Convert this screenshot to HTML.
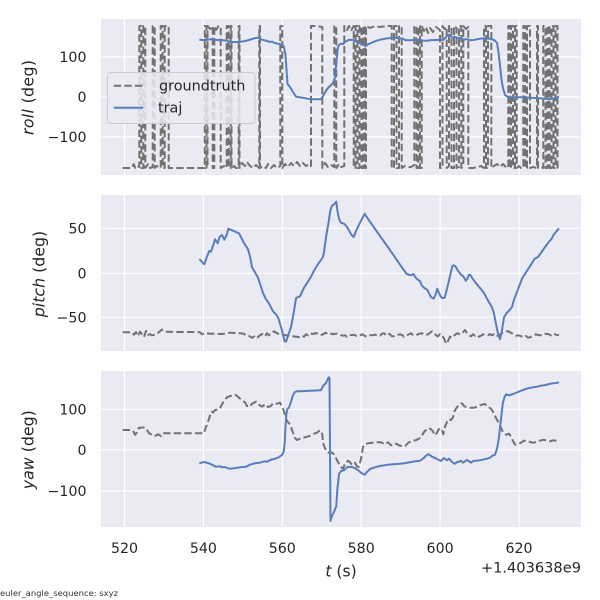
<!DOCTYPE html>
<html><head><meta charset="utf-8"><style>
html,body{margin:0;padding:0;background:#fff;}
svg{display:block;font-family:"DejaVu Sans","Liberation Sans",sans-serif;}
</style></head><body>
<svg width="600" height="600" viewBox="0 0 600 600" xmlns="http://www.w3.org/2000/svg">
<rect width="600" height="600" fill="#fff"/>
<!-- axes backgrounds -->
<rect x="101" y="19" width="480" height="156" fill="#EAEAF2"/>
<rect x="101" y="195" width="480" height="156" fill="#EAEAF2"/>
<rect x="101" y="371" width="480" height="156" fill="#EAEAF2"/>
<!-- grid -->
<g stroke="#fff" stroke-width="1.2" fill="none">
<path d="M124.5,19V175M203.4,19V175M282.3,19V175M361.2,19V175M440.1,19V175M519,19V175"/>
<path d="M124.5,195V351M203.4,195V351M282.3,195V351M361.2,195V351M440.1,195V351M519,195V351"/>
<path d="M124.5,371V527M203.4,371V527M282.3,371V527M361.2,371V527M440.1,371V527M519,371V527"/>
<path d="M101,57H581M101,97H581M101,137H581"/>
<path d="M101,228.3H581M101,273.3H581M101,317.3H581"/>
<path d="M101,409.3H581M101,450H581M101,491H581"/>
</g>

<!-- ROLL groundtruth -->
<path fill="none" stroke="#727272" stroke-width="2" stroke-dasharray="7.4 3.2" stroke-linejoin="round" d="M122.7,168 L132,168 L133.7,164 L135.3,168 L137,166 L139.3,167 L139.3,26 L141.3,26 L141.3,168 L143.3,168 L143.3,26 L145.3,26 L145.3,168 L148,164 L150,168 L152.7,167 L152.7,26 L154.7,26 L154.7,168 L157,166 L160.7,168 L160.7,26 L162.7,26 L162.7,168 L164.7,168 L164.7,26 L168.7,26 L168.7,168 L204.7,168 L204.7,26 L206.5,26 L206.5,168 L207.5,168 L207.5,26 L210,29 L212.7,26 L212.7,168 L214.3,168 L214.3,26 L216,30 L218.5,26 L220.7,27 L220.7,168 L224,166 L226.7,168 L226.7,26 L228.7,26 L228.7,168 L230.7,168 L230.7,26 L231.5,26 L231.5,168 L234,166 L236,168 L238.7,168 L238.7,26 L239.5,26 L239.5,168 L242,163 L245,166 L247,162 L250,166 L253,168 L256,165 L259.3,168 L259.3,26 L260,26 L260,168 L263,166 L266,168 L268,164 L271,168 L274,165 L277,168 L280.3,166 L280.3,26 L282.3,26 L282.3,168 L285,164 L288,167 L291,163 L294,166 L297,162 L300,166 L303,163 L306,166 L309,164 L311,166 L311,26 L316,26 L322.3,27 L322.3,168 L325,163 L328,167 L331,165 L334.3,167 L334.3,26 L336.3,26 L336.3,168 L339,164 L341,167 L344.3,166 L344.3,26 L347,30 L349,26 L351,31 L353.7,26 L353.7,168 L355.5,168 L355.5,26 L357.5,26 L357.5,168 L359.5,168 L359.5,26 L361.5,26 L361.5,168 L363.3,168 L363.3,26 L365,26 L365,168 L366,168 L366,26 L370,28 L375,26 L380,27 L386,26 L391.7,26 L391.7,168 L394,168 L394,26 L396.5,26 L396.5,168 L399,168 L399,26 L401.7,26 L401.7,168 L405,166 L408,167 L411,167 L414.3,165 L414.3,26 L416.5,26 L416.5,168 L418.5,168 L418.5,26 L420,26 L420,168 L421.7,168 L421.7,26 L424,31 L426,27 L428,33 L430,28 L433,32 L436,27 L440,30 L440,168 L442.5,168 L442.5,26 L444.5,29 L446.7,27 L446.7,168 L449,166 L449,26 L451.5,26 L451.5,168 L454,168 L454,26 L456.5,28 L456.5,168 L459,167 L459,26 L461.3,26 L461.3,168 L463.3,166 L463.3,26 L466,29 L468.3,27 L468.3,168 L473,168 L478,167 L481,166 L484,168 L484,26 L486,26 L486,168 L488,168 L488,26 L491.3,26 L491.3,168 L494,166 L497,164 L500,167 L503,164 L506,167 L508.3,168 L508.3,26 L509.5,26 L509.5,168 L511,168 L511,26 L513,26 L513,168 L515,168 L515,26 L516.7,26 L516.7,168 L519,166 L521,168 L523.3,168 L523.3,26 L525,26 L525,168 L527,168 L527,26 L530,26 L530,168 L533,167 L537,168 L537,26 L538,26 L538,168 L541,167 L543.3,168 L543.3,26 L545.5,26 L545.5,168 L547.5,168 L547.5,26 L549.5,26 L549.5,168 L551.5,168 L551.5,26 L553.5,26 L553.5,168 L555.5,168 L555.5,26 L557.5,26 L557.5,168 L559,166"/>
<!-- ROLL traj -->
<polyline fill="none" stroke="#5a7dbb" stroke-width="2" stroke-linejoin="round" points="199.3,39.7 203,40 207,39.7 211,39.3 213,38.7 215,40 219,40 223,40.3 227,40.7 230,42 233,42 237,42 241,41.7 245,41 249,40 253,38.7 257,37.7 259,38 262,39.7 266,40.7 269,41.7 272,41.7 275,43 278,43.7 280,44 283,45.3 284,47.3 285.5,55 286.5,70 287.5,84 290,87 293,92 296,96.7 300,97.3 304,98 308,98.7 311,99.3 313,99.3 318,99.3 321,99 323,96.3 325,92.3 328,88 331,85 333,83 335,78 336.5,60 338,47 339.5,44.5 341,43.7 343,44 345,42 349,39.7 353,40 355,41 358,42.3 361,43.7 364,45.3 366,46 368,44.3 371,43 375,41.3 380,39.7 385,38.7 390,38 395,38 400,38.3 403,38.7 405,40 407,40.3 410,40.3 415,39.7 420,40 424,40.7 427,40.7 430,40.3 435,40 440,40 443,40 445,38.3 447,35.7 449,34.7 451,36.3 453,37.7 455,37 458,38 461,38.3 464,39.7 466,39 468,39.7 472,40.3 477,39.3 480,38.7 484,38.3 489,38.7 493,39.7 495,40.7 497,43 498.5,52 500,66 501.7,81 503,88 505,95 508,97 515,97.3 520,97.3 525,97.3 530,97.7 535,98 540,98.3 545,98.7 549,99 553,98.7 555,97.7 557,97.3 559,96.3"/>

<!-- PITCH groundtruth -->
<polyline fill="none" stroke="#727272" stroke-width="2" stroke-dasharray="7.4 3.2" stroke-linejoin="round" points="122.7,332.3 132,332.3 134,334.7 136,332 138,336 140,331.7 142,334 144,337 146,331 148,335 150,334 152,335.3 155,334.7 158,333 160,331.3 162,329.5 164,331.7 168,331.7 175,332 185,332 195,332 200,332.3 202,334.3 205,333 210,333.7 215,333.7 220,334 225,333.7 230,332.7 235,333 240,333.3 244,333.7 246,335.7 249,336 252,337.7 255,336 257,338 259,336 262,334 265,336.3 267,333.3 269,335.3 271,333.7 274,331.3 276,332.7 278,333.7 280,335 283,334.7 286,335.3 290,335.7 293,336.3 296,336.7 300,337.3 302,336 304,336.7 306,334.3 308,335.3 310,333.3 313,334 316,333 318,333.7 320,335 322,334.7 324,333.7 326,332.7 328,334 330,333.3 333,334.3 335,333.7 337,333.7 340,335 343,335.7 345,335.3 347,336.7 349,335 352,335 354,334.7 357,336.3 359,336 362,334.3 364,335.3 366,336.3 369,335.3 372,335.3 375,334.7 378,335.7 380,335.7 382,333.7 384,333.3 386,335 388,333.3 390,334.3 392,336.3 394,336.3 397,335 400,334.3 402,335 404,336.7 406,336 408,334.7 411,333.3 413,335 416,335.3 419,333.7 422,333.3 425,335 428,334.3 430,332.7 432,331.3 434,332.7 436,335.3 438,336.3 440,334 442,335.7 444,338.3 446,343.7 448,341 450,336.7 452,337.7 454,335.7 457,333.3 459,334 461,334.3 463,332.3 465,330 467,333 469,335 471,336.3 473,334.3 475,335.7 477,335 479,336.7 481,335.7 483,334.3 486,335 488,335.3 490,334 492,335.3 494,334.3 496,336 498,335.7 500,334.7 502,333.3 504,332.3 506,331.3 508,331.3 510,332.3 512,333.3 514,334 516,335.7 518,335.3 520,335.7 522,336.7 524,337.3 526,336 528,337.7 530,337.3 532,336 534,335.3 536,334.3 538,335 540,335.3 542,335.3 544,334.7 546,333.7 548,334 550,335 552,335.7 554,334 556,334.7 559,335.3"/>
<!-- PITCH traj -->
<polyline fill="none" stroke="#5a7dbb" stroke-width="2" stroke-linejoin="round" points="199.3,259 204.3,264.3 207.7,254.7 209.3,251 211,251.7 213.3,245 215,239.3 217.7,243.3 219.7,236.7 222,235 224.3,239.7 226.7,235 228.3,228.7 233,230.7 239,233.3 244,243 248,249.3 250.3,257.7 252,267.3 255,272.3 258,277.7 263,293 266,299.3 268.3,302.3 270.3,306 273,311.3 276.3,314.7 278.3,318 281.3,328 284.7,341.3 286,341.7 291,327 294,311.3 296,298 300,296.3 304,287.7 307.7,282 311,276.7 314,270.7 318.7,263 322.7,257.7 324,252.3 326.3,235.3 328.7,221.7 330.3,210.7 332,205.7 334,204.3 336.3,201.7 337.3,210 339,219 341,222.7 344,223.7 346,225.7 349,230.3 351.3,234.7 353.7,237 356,231 360,222.7 364.7,213.7 366,216 370,221.7 380,236 390,250 400,264.7 406.7,274 411,275.3 413.3,274 416,278 420,281.3 422,285.7 424.7,288.3 427.3,289.7 429,293.3 431,297 433.7,298.7 435.7,294.3 437.3,288.7 440,295.3 442,298 444.7,297.7 448.3,283.3 451,272 452.3,266 453.7,265.3 455.7,266.7 458,270.7 461,274.7 463.3,276.3 464.7,278.7 465.7,280.7 467.3,278.7 469,274.7 470.3,275 472.7,278.7 476,283.3 480,288 484,293 486.3,297.3 489,302.3 491.7,306.7 493.7,312.3 495.7,322.3 497.7,332.3 500,339.3 502,330.3 504,317.3 506.7,313 509.3,310.3 512,307 514,299.7 518,289.3 522,278.7 526,272.3 531,264.7 534.7,258.7 538,257 543,250 548,243 551.7,238.7 553.7,234.7 559,228.3"/>

<!-- YAW groundtruth -->
<polyline fill="none" stroke="#727272" stroke-width="2" stroke-dasharray="7.4 3.2" stroke-linejoin="round" points="122.7,430 129,430 133,430.7 135,434.7 137,432.3 139,427.7 141,427.7 143,427.3 146,428.3 149,433.3 152,434.7 155,436 158,434.3 161,436 163,433.3 166,433.3 175,433.3 185,433.3 195,433.3 204,433.3 205,429.7 207.7,422.7 210,415.7 212,411.7 213,412.7 215,410 218,409.7 220,408 222,404.3 224,401 227,397.3 230,396 233,395.7 236,395 239,397.7 242,400.3 245,402.3 247,406 250,406.7 252,403.7 256,401.7 259,404.7 262,406.7 265,404.3 268,407 271,406 273,403.3 277,403.7 280,402.7 282,406.7 284,411 286,419 288,422.3 290,424.3 292,430 295,438 297,440 300,438.7 303,437.7 306,437 309,436.3 312,434.7 314,433.7 317,432.7 319,431 321,430.7 322.3,434.7 323,443 325,448.3 327,452 329,452.7 331,452.3 333,453.3 335,456 338,462 341,467 343,468.7 345,463.7 348,460.7 350,462.3 352,464.7 355,462.7 357,466.7 359,466.7 361,459 363,447 365,444.3 368,443.3 373,442.7 377,442.3 381,442.3 385,444.3 388,442.3 391,445.3 395,443.3 400,445.7 405,446.3 408,443 412,440.7 416,440.3 418,439 421,437.7 423,433.7 425,430.7 427,429.7 429,428 431,429.3 433,431.3 434.7,435.3 436.7,433.3 438,430.3 440,428.3 442,430 443.3,434.3 445,426.7 447,422 449,419 451,420 453,417.3 454.7,410.7 456.7,407.7 458,406 460,404.3 462,403.3 464,406 466,407 470,407.7 474,407.7 477,407 480,405.3 483,404.3 485,404 487,406.3 490,408 492,410 494,413.7 496,418 499,423.3 501,428 503,432 506,434.7 509,433.7 511,436.7 513,441 515,444.7 518,444.3 521,442.7 524,440.7 528,441 530,442 533,442.7 535,442.3 538,441.3 541,440.3 544,439.7 547,441 550,441.3 553,440.3 556,440.7 559,440"/>
<!-- YAW traj -->
<polyline fill="none" stroke="#5a7dbb" stroke-width="2" stroke-linejoin="round" points="199.3,463.3 204,462 208,463 212,464.7 216,466.7 220,466.3 222,467.3 225,467 228,468.3 230,468.7 236,468 240,467.3 246,466.7 250,464.7 256,463 260,462.7 264,461.3 267,461.7 271,459.7 274,459 278,457.7 282,455 283.7,451.7 284.7,443 285.3,430 286.3,415 287.3,409 289,407.7 291,401.7 293,395 295,392 297,391.3 300,391.3 310,390.7 321,390.3 323,386 326,383 328.7,377.3 329.5,378 330.5,521 332,515.7 334,512 336.3,506 337.3,490 339,474 341,471 344,470.3 347,467.3 351,466.7 354,467.7 358,470 361,472.7 364.7,474.7 366.7,472.3 370,469 375,467.3 380,466 386,465 393,464.3 400,463.7 406,463 411,462 415,461.3 420,460.7 423,458.7 425.7,456 428,454.3 430,455 432,456.7 434.3,457.7 437,459 441,461 444,458 447,460.3 449,458.7 452,462 455,463.7 457,462 459,461.7 461,460.7 463,462.7 465,461.3 467,460 469,461.3 471,462.7 473,461 476,460.7 480,460.3 484,459.3 487,458.7 490,457.7 492,456 495,454.7 497,449 499,437.3 501,418.7 503,402.3 504.7,396.7 506,394.3 509,395.3 513,394 518,392 523,390 528,388.3 533,387.3 537,386.7 541,385.7 546,385 549,384 553,383.3 556,383 559,382.3"/>

<!-- legend -->
<rect x="107.5" y="72.5" width="147.5" height="51" rx="3" fill="#EAEAF2" fill-opacity="0.85" stroke="#cccccc" stroke-width="1"/>
<line x1="113.7" y1="85.7" x2="143.3" y2="85.7" stroke="#727272" stroke-width="2" stroke-dasharray="7.4 3.2"/>
<line x1="113.7" y1="107.7" x2="143.3" y2="107.7" stroke="#5a7dbb" stroke-width="2"/>
<g fill="#262626" font-size="14.4">
<text x="159" y="90.5">groundtruth</text>
<text x="158" y="112.5">traj</text>
</g>

<!-- y tick labels -->
<g fill="#262626" font-size="14.2" text-anchor="end">
<text x="86.5" y="62.2">100</text>
<text x="86.5" y="102.2">0</text>
<text x="86.5" y="142.2">−100</text>
<text x="86.5" y="233.5">50</text>
<text x="86.5" y="278.5">0</text>
<text x="86.5" y="322.5">−50</text>
<text x="86.5" y="414.5">100</text>
<text x="86.5" y="455.2">0</text>
<text x="86.5" y="496.2">−100</text>
</g>
<!-- x tick labels -->
<g fill="#262626" font-size="14.2" text-anchor="middle">
<text x="124.5" y="553">520</text>
<text x="203.4" y="553">540</text>
<text x="282.3" y="553">560</text>
<text x="361.2" y="553">580</text>
<text x="440.1" y="553">600</text>
<text x="519" y="553">620</text>
</g>
<text x="581" y="572.6" fill="#262626" font-size="14.6" text-anchor="end">+1.403638e9</text>
<text x="341" y="576.7" fill="#262626" font-size="15.6" text-anchor="middle"><tspan font-style="italic">t</tspan> (s)</text>

<!-- y axis labels -->
<g fill="#262626" font-size="15.8" text-anchor="middle">
<text transform="translate(33.5,97.5) rotate(-90)" textLength="75"><tspan font-style="italic">roll</tspan> (deg)</text>
<text transform="translate(44.5,274) rotate(-90)"><tspan font-style="italic">pitch</tspan> (deg)</text>
<text transform="translate(33.5,449.7) rotate(-90)"><tspan font-style="italic">yaw</tspan> (deg)</text>
</g>

<text x="0" y="596" fill="#333" font-size="8" textLength="118" lengthAdjust="spacingAndGlyphs">euler_angle_sequence: sxyz</text>
</svg>
</body></html>
